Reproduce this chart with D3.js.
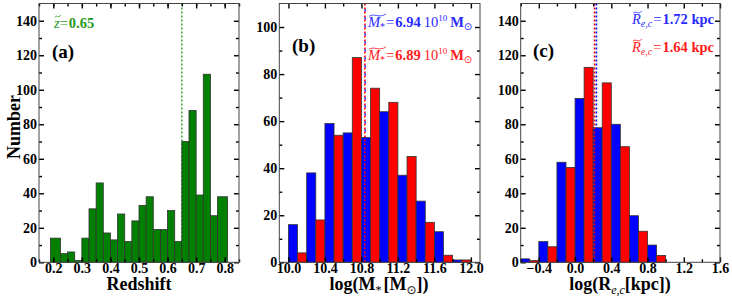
<!DOCTYPE html>
<html>
<head>
<meta charset="utf-8">
<script src="https://cdn.jsdelivr.net/npm/d3@7"></script>
<style>
  body { margin: 0; background: #fff; }
  svg { font-family: "Liberation Serif", "Times New Roman", serif; }
</style>
</head>
<body>
<svg id="chart" width="732" height="299"></svg>
<script>
// panel (a): redshift histogram (bin edges + counts)
const zEdges = [0.19, 0.225, 0.25, 0.275, 0.3, 0.325, 0.35, 0.375, 0.4, 0.425, 0.45, 0.475, 0.5,
  0.525, 0.55, 0.575, 0.6, 0.625, 0.65, 0.675, 0.7, 0.725, 0.75, 0.775, 0.81];
const zCounts = [14, 5, 6, 1, 14, 31, 46, 17, 13, 28, 12, 24, 33, 38, 19, 19, 30, 12, 70, 88, 39, 109, 27, 38];
const zMedian = 0.65;
const zTicks = [0.2, 0.3, 0.4, 0.5, 0.6, 0.7, 0.8];

// panel (b): stellar mass, blue / red samples
const massBins = [10.0, 10.2, 10.4, 10.6, 10.8, 11.0, 11.2, 11.4, 11.6, 11.8];
const massBlue = [16, 38, 59, 55, 53, 64, 37, 26, 13, 1];
const massRed = [4, 18, 54, 87, 74, 68, 45, 17, 3, 1];
const massMedian = { blue: 10.841, red: 10.838 };
const massTicks = [10.0, 10.4, 10.8, 11.2, 11.6, 12.0];

// panel (c): circularized size, blue / red samples
const sizeBins = [-0.6, -0.4, -0.2, 0.0, 0.2, 0.4, 0.6, 0.8];
const sizeBlue = [2, 12, 58, 95, 78, 80, 27, 10];
const sizeRed = [1, 9, 55, 113, 104, 67, 18, 4];
const sizeMedian = { blue: 0.236, red: 0.215 };
const sizeTicks = [-0.4, 0.0, 0.4, 0.8, 1.2, 1.6];

const plotTop = 3.5, plotBottom = 262.3;
const GREEN = "#008000", GREEN_TXT = "#1f9a1f", BLUE = "#0000ff", RED = "#ff0000";
const BLUE_TXT = "#2a2aff", RED_TXT = "#ff1a1a";

const svg = d3.select("#chart");

function frame(g, x, y, xMaj, xMin, yMaj, yMin, fmt) {
  const axes = [
    [d3.axisBottom(x).tickValues(xMaj).tickFormat(fmt), `translate(0,${plotBottom})`, 5, 1],
    [d3.axisBottom(x).tickValues(xMin).tickFormat(""), `translate(0,${plotBottom})`, 3, 1],
    [d3.axisTop(x).tickValues(xMaj).tickFormat(""), `translate(0,${plotTop})`, 5, 2],
    [d3.axisTop(x).tickValues(xMin).tickFormat(""), `translate(0,${plotTop})`, 3, 2],
    [d3.axisLeft(y).tickValues(yMaj).tickFormat(d3.format("d")), `translate(${x.range()[0]},0)`, 5, 2],
    [d3.axisLeft(y).tickValues(yMin).tickFormat(""), `translate(${x.range()[0]},0)`, 3, 2],
    [d3.axisRight(y).tickValues(yMaj).tickFormat(""), `translate(${x.range()[1]},0)`, 5, 2],
    [d3.axisRight(y).tickValues(yMin).tickFormat(""), `translate(${x.range()[1]},0)`, 3, 2]
  ];
  axes.forEach(([ax, tr, len, pad]) => {
    const a = g.append("g").attr("transform", tr)
      .call(ax.tickSize(-len).tickPadding(pad));
    a.select(".domain").remove();
    a.selectAll("line").attr("stroke", "#000").attr("stroke-width", 1.4);
    a.selectAll("text").attr("fill", "#000")
      .style("font-size", "14px")
      .style("font-family", "Liberation Serif")
      .style("font-weight", "bold");
  });
  g.append("rect")
    .attr("x", x.range()[0]).attr("y", plotTop)
    .attr("width", x.range()[1] - x.range()[0]).attr("height", plotBottom - plotTop)
    .attr("fill", "none").attr("stroke", "#444").attr("stroke-width", 1);
}

// lays out pieces of text one after another; returns total width
function rich(g, x, y, parts, color, anchor) {
  const tg = g.append("g");
  let cx = 0;
  const tildes = [];
  parts.forEach(p => {
    const size = p.size || 14.5;
    const t = tg.append("text")
      .attr("x", cx).attr("y", p.dy || 0)
      .attr("fill", color)
      .style("font-size", size + "px")
      .style("font-style", p.italic ? "italic" : "normal")
      .style("font-weight", p.normal ? "normal" : "bold")
      .style("font-family", p.family || "Liberation Serif")
      .text(p.t);
    const w = t.node().getComputedTextLength();
    if (p.tilde) tildes.push([cx, p.tildeWidth || w, size]);
    cx += w + (p.gap || 0);
  });
  tildes.forEach(([x0, w, size]) => {
    const ty = -size * 0.82;
    const a = x0 + 1, b = x0 + w + 1;
    tg.append("path")
      .attr("d", `M${a},${ty + 1.2} C${a + (b - a) * 0.3},${ty - 2.4} ${a + (b - a) * 0.6},${ty + 3.6} ${b},${ty - 1.2}`)
      .attr("fill", "none").attr("stroke", color).attr("stroke-width", 0.8);
  });
  const shift = anchor === "middle" ? -cx / 2 : 0;
  tg.attr("transform", `translate(${x + shift},${y})`);
  return cx;
}

function label(g, x, y, txt, size) {
  return g.append("text").attr("x", x).attr("y", y)
    .style("font-size", size + "px").style("font-weight", "bold")
    .text(txt);
}

// ---------- panel (a) ----------
{
  const g = svg.append("g");
  const x = d3.scaleLinear().domain([0.15, 0.85]).range([39, 239]);
  const y = d3.scaleLinear().domain([0, 150]).range([plotBottom, plotTop]);

  g.append("line")
    .attr("x1", x(zMedian)).attr("x2", x(zMedian))
    .attr("y1", plotTop).attr("y2", plotBottom)
    .attr("stroke", "#3aa83a").attr("stroke-width", 1.6).attr("stroke-dasharray", "2,2");

  g.append("g").selectAll("rect")
    .data(zCounts.map((c, i) => ({ x0: zEdges[i], x1: zEdges[i + 1], c })))
    .join("rect")
    .attr("x", d => x(d.x0)).attr("width", d => x(d.x1) - x(d.x0))
    .attr("y", d => y(d.c)).attr("height", d => y(0) - y(d.c))
    .attr("fill", GREEN).attr("stroke", "#333").attr("stroke-width", 0.8);

  frame(g, x, y, zTicks, d3.range(0.15, 0.86, 0.05), d3.range(0, 141, 20), d3.range(10, 150, 20), d3.format(".1f"));

  rich(g, 54, 28, [
    { t: "z", italic: true, normal: true, tilde: true },
    { t: "=", normal: true, gap: 1 },
    { t: "0.65" }
  ], GREEN_TXT);
  label(g, 52, 58, "(a)", 19);

  label(g, 139, 290, "Redshift", 18).attr("text-anchor", "middle");
  label(g, 0, 0, "Number", 18).attr("x", null).attr("y", null)
    .attr("transform", "translate(20,127) rotate(-90)").attr("text-anchor", "middle");
}

// ---------- panel (b) ----------
{
  const g = svg.append("g");
  const x = d3.scaleLinear().domain([9.9, 12.1]).range([279.3, 480]);
  const y = d3.scaleLinear().domain([0, 110]).range([plotBottom, plotTop]);
  const w = 0.2;

  const bars = massBins.flatMap((b, i) => [
    { x0: b, x1: b + w / 2, c: massBlue[i], col: BLUE },
    { x0: b + w / 2, x1: b + w, c: massRed[i], col: RED }
  ]);
  g.append("g").selectAll("rect").data(bars).join("rect")
    .attr("x", d => x(d.x0)).attr("width", d => x(d.x1) - x(d.x0))
    .attr("y", d => y(d.c)).attr("height", d => y(0) - y(d.c))
    .attr("fill", d => d.col).attr("stroke", "#333").attr("stroke-width", 0.8);

  g.append("line")
    .attr("x1", x(massMedian.red)).attr("x2", x(massMedian.red))
    .attr("y1", plotTop).attr("y2", plotBottom)
    .attr("stroke", RED).attr("stroke-width", 1.6).attr("stroke-dasharray", "2,2");
  g.append("line")
    .attr("x1", x(massMedian.blue)).attr("x2", x(massMedian.blue))
    .attr("y1", plotTop).attr("y2", plotBottom)
    .attr("stroke", BLUE).attr("stroke-width", 1.3).attr("stroke-dasharray", "2,6")
    .attr("stroke-dashoffset", 2);

  frame(g, x, y, massTicks, d3.range(10.2, 12.0, 0.4), d3.range(0, 101, 20), d3.range(10, 110, 20), d3.format(".1f"));

  const mParts = (val) => [
    { t: "M", italic: true, normal: true, tilde: true, tildeWidth: 17 },
    { t: "*", normal: true, size: 10, dy: 3, gap: 1 },
    { t: "=", normal: true, gap: 1 },
    { t: val, gap: 3 },
    { t: "10", normal: true },
    { t: "10", normal: true, size: 9, dy: -6, gap: 3 },
    { t: "M" },
    { t: "⊙", normal: true, size: 10, dy: 3, family: "DejaVu Sans" }
  ];
  rich(g, 368, 27, mParts("6.94"), BLUE_TXT);
  rich(g, 368, 60, mParts("6.89"), RED_TXT);
  label(g, 292, 52, "(b)", 19);

  rich(g, 379, 290, [
    { t: "log(M", size: 18 },
    { t: "*", size: 12, dy: 4, normal: true, gap: 2 },
    { t: "[M", size: 18 },
    { t: "⊙", size: 12, dy: 4, normal: true, family: "DejaVu Sans" },
    { t: "])", size: 18 }
  ], "#000", "middle");
}

// ---------- panel (c) ----------
{
  const g = svg.append("g");
  const x = d3.scaleLinear().domain([-0.6, 1.6]).range([520.7, 720]);
  const y = d3.scaleLinear().domain([0, 150]).range([plotBottom, plotTop]);
  const w = 0.2;

  const bars = sizeBins.flatMap((b, i) => [
    { x0: b, x1: b + w / 2, c: sizeBlue[i], col: BLUE },
    { x0: b + w / 2, x1: b + w, c: sizeRed[i], col: RED }
  ]);
  g.append("g").selectAll("rect").data(bars).join("rect")
    .attr("x", d => x(d.x0)).attr("width", d => x(d.x1) - x(d.x0))
    .attr("y", d => y(d.c)).attr("height", d => y(0) - y(d.c))
    .attr("fill", d => d.col).attr("stroke", "#333").attr("stroke-width", 0.8);

  g.append("line")
    .attr("x1", x(sizeMedian.red)).attr("x2", x(sizeMedian.red))
    .attr("y1", plotTop).attr("y2", plotBottom)
    .attr("stroke", RED).attr("stroke-width", 1.6).attr("stroke-dasharray", "2,2");
  g.append("line")
    .attr("x1", x(sizeMedian.blue)).attr("x2", x(sizeMedian.blue))
    .attr("y1", plotTop).attr("y2", plotBottom)
    .attr("stroke", BLUE).attr("stroke-width", 1.6).attr("stroke-dasharray", "2,2");

  frame(g, x, y, sizeTicks, d3.range(-0.6, 1.5, 0.4), d3.range(0, 141, 20), d3.range(10, 150, 20), d3.format(".1f"));

  const rParts = (val) => [
    { t: "R", italic: true, normal: true, tilde: true },
    { t: "e,c", italic: true, normal: true, size: 10, dy: 3, gap: 1 },
    { t: "=", normal: true, gap: 1 },
    { t: val }
  ];
  rich(g, 632, 24, rParts("1.72 kpc"), BLUE_TXT);
  rich(g, 632, 52, rParts("1.64 kpc"), RED_TXT);
  label(g, 533, 57, "(c)", 19);

  rich(g, 620, 290, [
    { t: "log(R", size: 18 },
    { t: "e,c", size: 12, dy: 4, italic: true, normal: true },
    { t: "[kpc])", size: 18 }
  ], "#000", "middle");
}
</script>
</body>
</html>
